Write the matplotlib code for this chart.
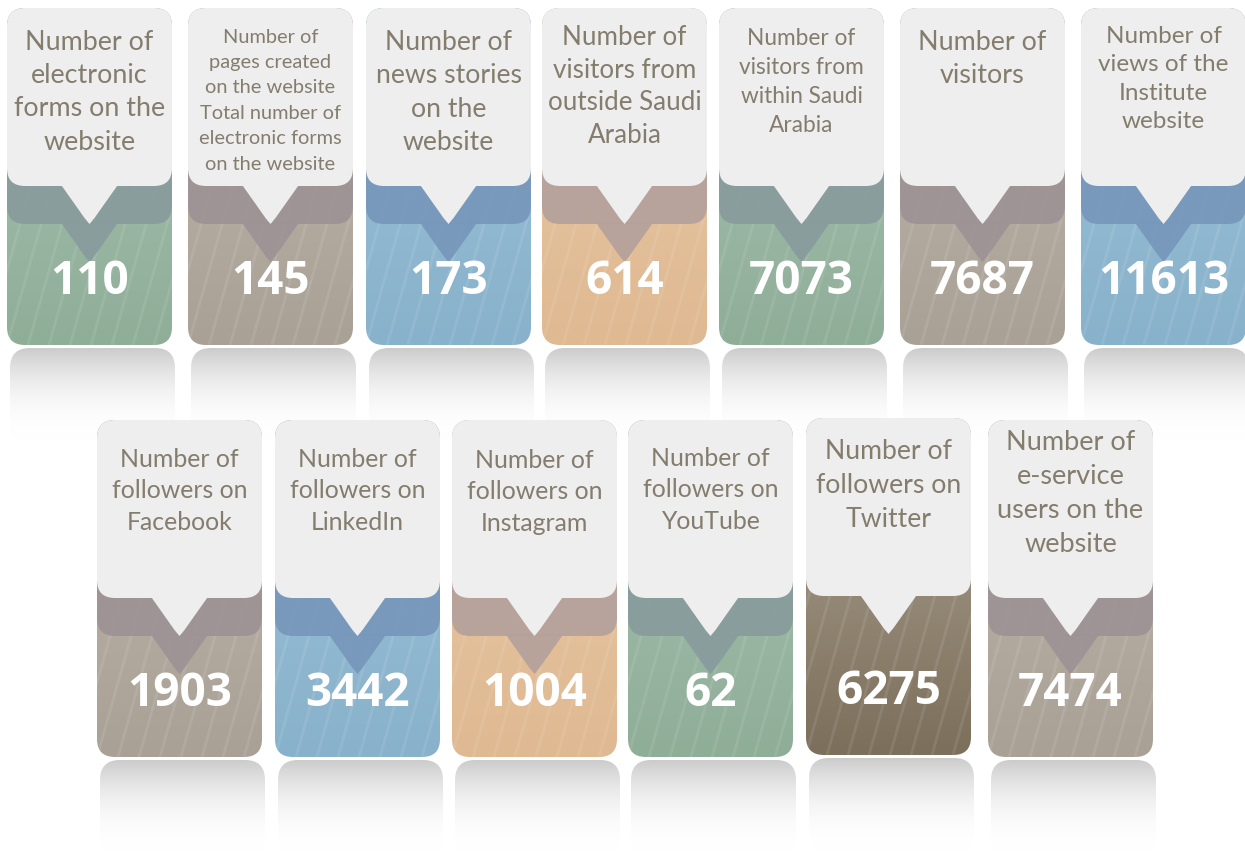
import numpy as np
import matplotlib.pyplot as plt
from matplotlib.patches import FancyBboxPatch, Polygon
from matplotlib.colors import LinearSegmentedColormap

# ---- data ----
top_labels = [
    "Number of\nelectronic\nforms on the\nwebsite",
    "Number of\npages created\non the website\nTotal number of\nelectronic forms\non the website",
    "Number of\nnews stories\non the\nwebsite",
    "Number of\nvisitors from\noutside Saudi\nArabia",
    "Number of\nvisitors from\nwithin Saudi\nArabia",
    "Number of\nvisitors",
    "Number of\nviews of the\nInstitute\nwebsite",
]
top_values = [110, 145, 173, 614, 7073, 7687, 11613]
top_colors = ["green", "taupe", "blue", "peach", "green", "taupe", "blue"]

bottom_labels = [
    "Number of\nfollowers on\nFacebook",
    "Number of\nfollowers on\nLinkedIn",
    "Number of\nfollowers on\nInstagram",
    "Number of\nfollowers on\nYouTube",
    "Number of\nfollowers on\nTwitter",
    "Number of\ne-service\nusers on the\nwebsite",
]
bottom_values = [1903, 3442, 1004, 62, 6275, 7474]
bottom_colors = ["taupe", "blue", "peach", "green", "brown", "taupe"]

# tile palette: (top, bottom, band)
palette = {
    "green": ("#a8c2b1", "#8fae98", "#899b9d"),
    "taupe": ("#c0b8ad", "#a9a196", "#9d9396"),
    "blue":  ("#9ec2d8", "#88b2cb", "#7797bb"),
    "peach": ("#e8c9aa", "#dfb991", "#b4a19b"),
    "brown": ("#aea592", "#7c6f5c", None),
}
text_col = "#847d6e"
bubble_col = "#eeeeee"

W, H = 165, 337
fig = plt.figure(figsize=(12.45, 8.61), dpi=100)
ax = fig.add_axes([0, 0, 1, 1])
ax.set_xlim(0, 1245)
ax.set_ylim(861, 0)
ax.set_axis_off()


def rbox(x, y, w, h, r=18, **kw):
    p = FancyBboxPatch((x, y), w, h, boxstyle=f"round,pad=0,rounding_size={r}", **kw)
    ax.add_patch(p)
    return p


def pointer(cx, yb, yt, **kw):
    pts = [(cx - 29, yb - 2), (cx - 5, yt - 6), (cx, yt), (cx + 5, yt - 6), (cx + 29, yb - 2)]
    p = Polygon(pts, closed=True, **kw)
    ax.add_patch(p)
    return p


def reflection(x, y):
    h = 95
    p = rbox(x + 3, y, W, h, r=20, facecolor="none", edgecolor="none", zorder=1)
    a = np.linspace(1, 0, 100) ** 1.3
    img = np.ones((100, 2, 4))
    img[:, :, :3] = np.linspace(0.80, 1.0, 100)[:, None, None]
    img[:, :, 3] = a[:, None]
    im = ax.imshow(img, extent=(x + 3, x + 3 + W, y + h, y), aspect="auto", zorder=1,
                   interpolation="bilinear")
    im.set_clip_path(p)


def tile(x, y0, label, value, cname, fs, ls, first_c):
    c_top, c_bot, c_band = palette[cname]
    tp = rbox(x, y0, W, H, facecolor="none", edgecolor="none", zorder=2)
    cmap = LinearSegmentedColormap.from_list("g", [c_top, c_bot])
    im = ax.imshow(np.linspace(0, 1, 100)[:, None], cmap=cmap, aspect="auto",
                   extent=(x, x + W, y0 + H, y0), zorder=2, interpolation="bilinear")
    im.set_clip_path(tp)
    # diagonal stripes
    for k in range(-6, 10):
        x1 = x + k * 21
        ln, = ax.plot([x1, x1 + 95], [y0 + H, y0], color="white", alpha=0.09,
                      lw=2, zorder=3)
        ln.set_clip_path(tp)
    cx = x + W / 2
    yb = y0 + 178
    # darker band (shifted bubble shape)
    if c_band is not None:
        b1 = rbox(x, y0, W, 178 + 38, facecolor=c_band, edgecolor="none", zorder=4, alpha=0.92)
        b1.set_clip_path(tp)
        b2 = pointer(cx, yb + 38, y0 + 216 + 38, facecolor=c_band, edgecolor="none",
                     zorder=4, alpha=0.92)
        b2.set_clip_path(tp)
    # bubble
    rbox(x, y0, W, 178, facecolor=bubble_col, edgecolor="none", zorder=5)
    pointer(cx, yb, y0 + 216, facecolor=bubble_col, edgecolor="none", zorder=5)
    em = fs * 100 / 72
    ax.text(cx, first_c - 0.42 * em, label, ha="center", va="top", fontsize=fs,
            color=text_col, family=["Lato", "DejaVu Sans"], linespacing=ls, zorder=6)
    ax.text(cx, y0 + 274, str(value), ha="center", va="center", fontsize=33,
            fontweight="bold", color="white", family=["Open Sans", "DejaVu Sans"], zorder=6)


top_x = [7, 188, 366, 542, 719, 900, 1081]
top_fs = [19.4, 14.4, 19.2, 18.7, 16.3, 19.4, 17.5]
top_ls = [1.42, 1.6, 1.42, 1.38, 1.46, 1.42, 1.44]
top_c = [41, 37, 41, 36, 38, 41, 36]
bot_x = [97, 275, 452, 628, 806, 988]
bot_y = [420, 420, 420, 420, 418, 420]
bot_fs = [17.9, 17.9, 17.9, 17.9, 19.2, 19.5]
bot_ls = [1.46, 1.46, 1.46, 1.46, 1.45, 1.45]
bot_c = [458, 458, 459, 457, 450, 441]

for x in top_x:
    reflection(x, 8 + H + 3)
for i, x in enumerate(top_x):
    tile(x, 8, top_labels[i], top_values[i], top_colors[i], top_fs[i], top_ls[i], top_c[i])
for i, x in enumerate(bot_x):
    reflection(x, bot_y[i] + H + 3)
for i, x in enumerate(bot_x):
    tile(x, bot_y[i], bottom_labels[i], bottom_values[i], bottom_colors[i],
         bot_fs[i], bot_ls[i], bot_c[i])

fig.savefig("out.png", dpi=100, facecolor="white")
